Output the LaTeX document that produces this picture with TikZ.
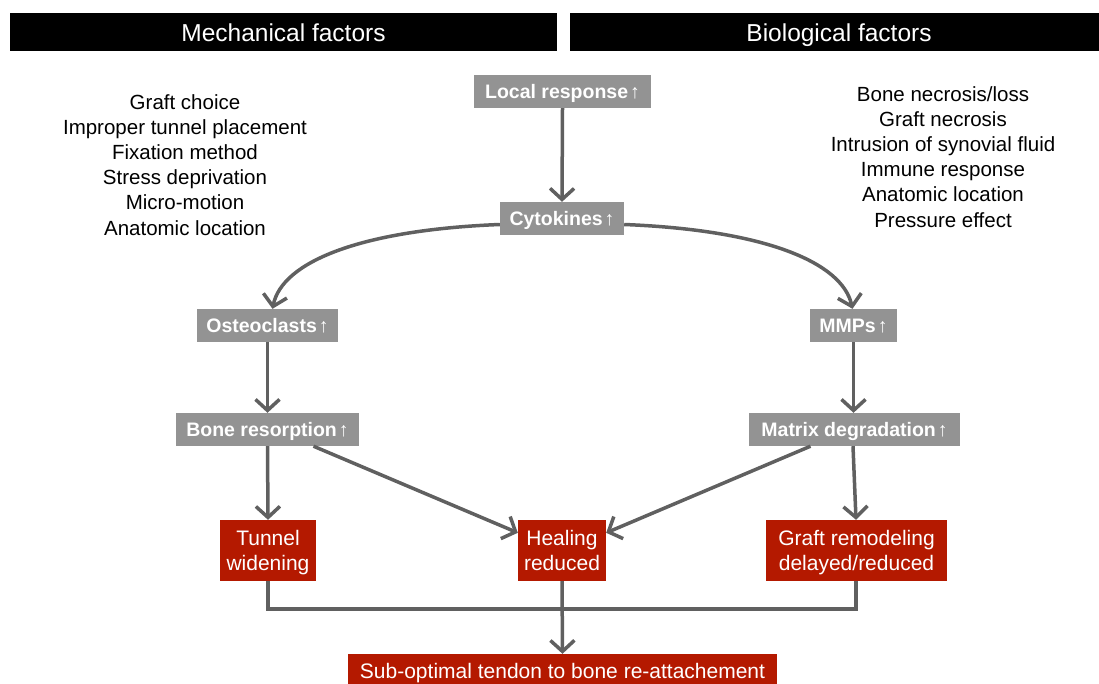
\documentclass[tikz,border=0pt]{standalone}
\usepackage{fontspec}
\setmainfont{Liberation Sans}
\usetikzlibrary{arrows.meta}
\definecolor{gbox}{HTML}{939393}
\definecolor{rbox}{HTML}{B41900}
\definecolor{lnc}{HTML}{606060}
\newcommand{\upar}{\hspace{2pt}↑}
\begin{document}
\begin{tikzpicture}[x=1pt,y=-1pt,
  hdr/.style={fill=black, text=white, inner sep=0pt, minimum height=38pt},
  htxt/.style={text=white, inner sep=0pt, text height=17.5pt, text depth=0pt, font=\fontsize{24.5}{28}\selectfont},
  gnode/.style={fill=gbox, text=white, inner xsep=0pt, inner ysep=0pt, text height=14pt, text depth=0pt, minimum height=33pt, font=\bfseries\fontsize{19.5}{22}\selectfont},
  rnode/.style={fill=rbox, text=white, inner sep=0pt, align=center, text height=40.5pt, text depth=0pt, minimum height=61pt, font=\fontsize{21}{25.5}\selectfont},
  lst/.style={align=center, inner sep=0pt, font=\fontsize{20.5}{25.2}\selectfont},
  conn/.style={draw=lnc, line width=3.5pt, -{Straight Barb[length=11pt,width=24pt]}},
  plain/.style={draw=lnc, line width=3.5pt}
]
\useasboundingbox (0,0) rectangle (1099,684);
% headers
\node[hdr, minimum width=547pt] (hm) at (283.5,32) {};
\node[htxt] (hmt) at (283.5,32.5) {Mechanical factors};
\node[hdr, minimum width=540pt] (hb) at (840,32) {};
\node[htxt] (hbt) at (839,32.5) {Biological factors};
% lists
\node[lst, anchor=north] (ml) at (185,94) {Graft choice\\Improper tunnel placement\\Fixation method\\Stress deprivation\\Micro-motion\\Anatomic location};
\node[lst, anchor=north] (bl) at (943,86) {Bone necrosis/loss\\Graft necrosis\\Intrusion of synovial fluid\\Immune response\\Anatomic location\\Pressure effect};
% gray nodes
\node[gnode, minimum width=177pt] (loc) at (562.5,91.5) {Local response\upar};
\node[gnode, minimum width=124pt] (cyt) at (562,218.5) {Cytokines\upar};
\node[gnode, minimum width=141pt] (ost) at (267.5,325.5) {Osteoclasts\upar};
\node[gnode, minimum width=87pt] (mmp) at (853.5,325.5) {MMPs\upar};
\node[gnode, minimum width=183pt] (bon) at (267.5,429.5) {Bone resorption\upar};
\node[gnode, minimum width=211pt] (mat) at (854.5,429.5) {Matrix degradation\upar};
% red nodes
\node[rnode, minimum width=96pt] (tun) at (268,550.5) {Tunnel\\widening};
\node[rnode, minimum width=88pt] (hea) at (562,550.5) {Healing\\reduced};
\node[rnode, minimum width=181pt] (gra) at (856.5,550.5) {Graft remodeling\\delayed/reduced};
\node[rnode, minimum width=429pt, minimum height=34pt, text height=15pt] (sub) at (562.5,671) {Sub-optimal tendon to bone re-attachement};
% connectors
\draw[conn] (loc.south) -- (cyt.north);
\draw[conn] ([yshift=-6pt]cyt.west) .. controls (360,230) and (282,262) .. ([xshift=5pt]ost.north);
\draw[conn] ([yshift=-6pt]cyt.east) .. controls (764,230) and (842,262) .. ([xshift=-1pt]mmp.north);
\draw[conn] (ost.south) -- (bon.north);
\draw[conn] (mmp.south) -- ([xshift=-1pt]mat.north);
\draw[conn] (bon.south) -- (tun.north);
\draw[conn] ([xshift=46pt]bon.south) -- ([yshift=-13pt]hea.north west);
\draw[conn] ([xshift=-44pt]mat.south) -- ([yshift=-13pt]hea.north east);
\draw[conn] ([xshift=-1.5pt]mat.south) -- ([xshift=-0.5pt]gra.north);
\coordinate (jl) at (268,609);
\coordinate (jr) at (856,609);
\draw[plain, line join=miter] (tun.south) -- (jl) -- (jr) -- ([xshift=-0.5pt]gra.south);
\draw[conn] (hea.south) -- (sub.north);
\end{tikzpicture}
\end{document}
